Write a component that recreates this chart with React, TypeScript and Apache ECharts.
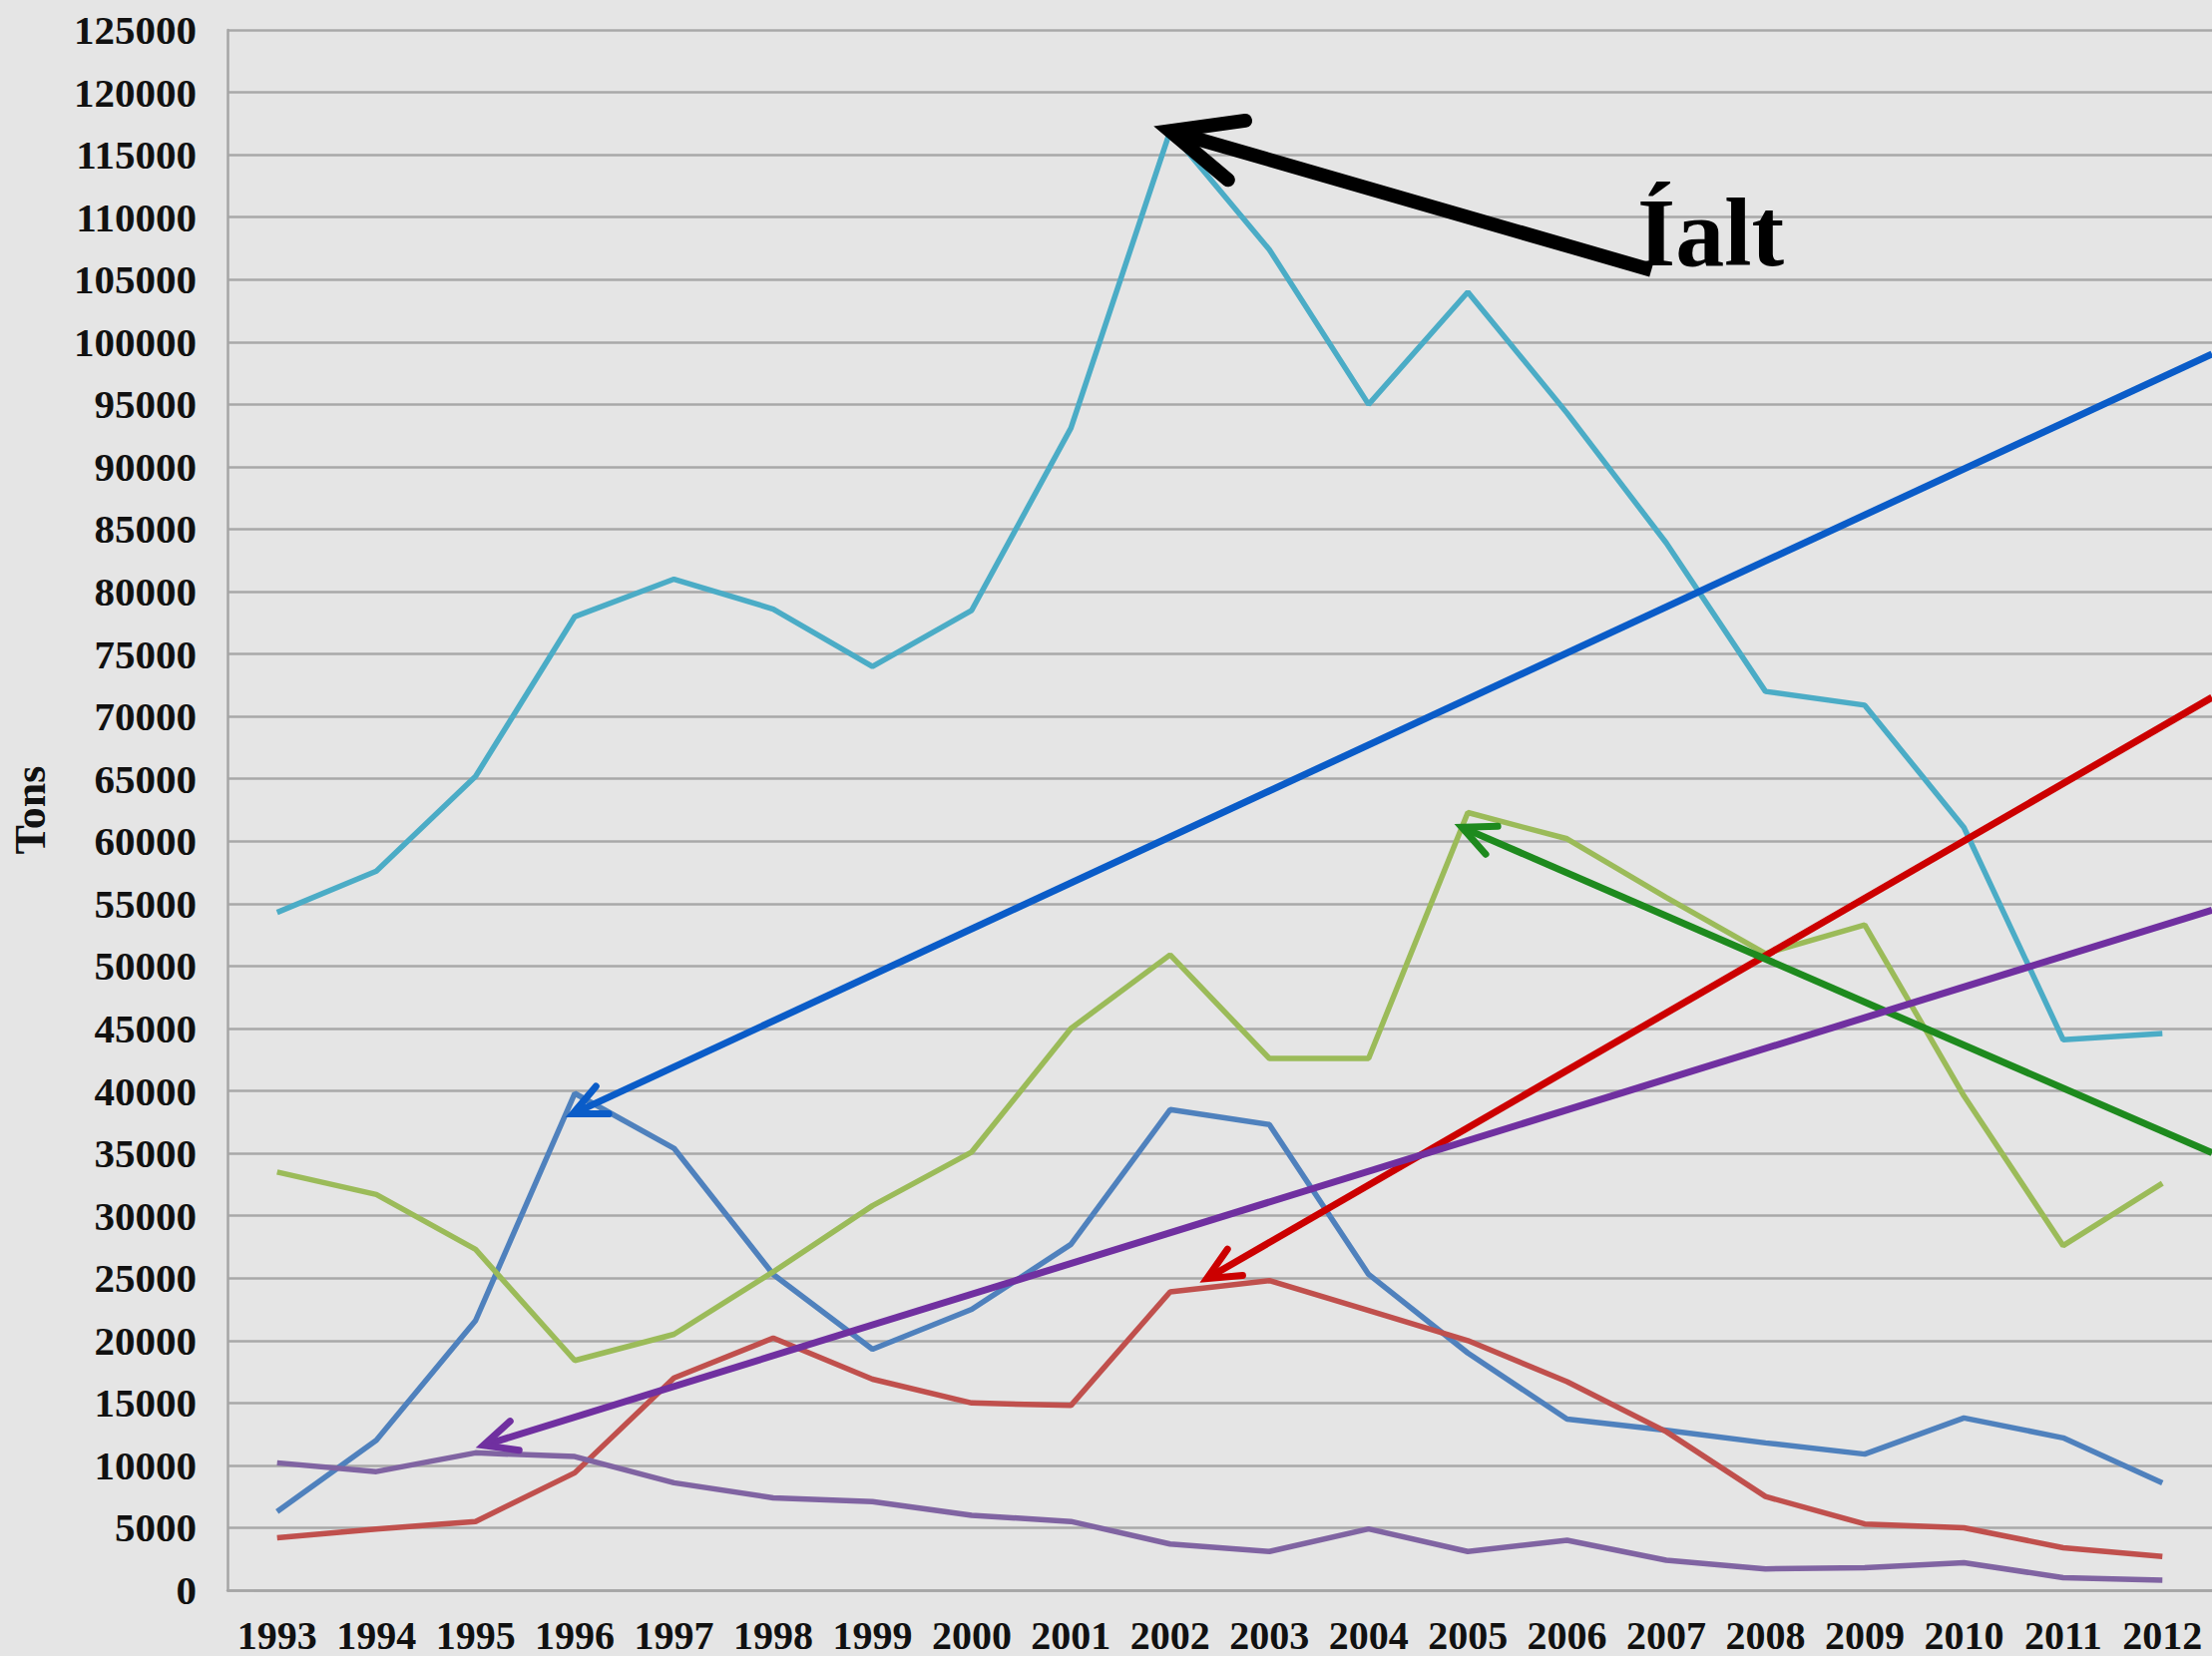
import React, { useEffect, useRef } from "react";
import * as echarts from "echarts";

const years = ["1993", "1994", "1995", "1996", "1997", "1998", "1999", "2000", "2001", "2002", "2003", "2004", "2005", "2006", "2007", "2008", "2009", "2010", "2011", "2012"];

const ialt = [54300, 57600, 65200, 78000, 81000, 78600, 74000, 78500, 93100, 116900, 107400, 95000, 104000, 94300, 83900, 72000, 70900, 61100, 44100, 44600];
const greenVals = [33500, 31700, 27300, 18400, 20500, 25500, 30800, 35100, 45000, 50900, 42600, 42600, 62300, 60200, 55500, 51000, 53300, 39600, 27600, 32600];
const blueVals = [6300, 12000, 21600, 39800, 35400, 25300, 19300, 22500, 27700, 38500, 37300, 25300, 19000, 13700, 12800, 11800, 10900, 13800, 12200, 8600];
const redVals = [4200, 4900, 5500, 9400, 17000, 20200, 16900, 15000, 14800, 23900, 24800, 22400, 20000, 16700, 12700, 7500, 5300, 5000, 3400, 2700];
const purpleVals = [10200, 9500, 11000, 10700, 8600, 7400, 7100, 6000, 5500, 3700, 3100, 4900, 3100, 4000, 2400, 1700, 1800, 2200, 1000, 800];

// Annotation arrows: head/tail positions in data space (category index, value)
const arrowHeadIdx = [9, 2.98, 9.37, 11.94, 2.08];
const arrowHeadVal = [116900, 38160, 24960, 61120, 11600];
const arrowTailIdx = [13.85, 19.5, 19.5, 19.5, 19.5];
const arrowTailVal = [105760, 99040, 71520, 35040, 54480];
const annotationText = "Íalt";

const FONT = "'Liberation Serif', 'Times New Roman', serif";

export default function App() {
  const ref = useRef<HTMLDivElement>(null);
  useEffect(() => {
    if (!ref.current) return;
    const chart = echarts.init(ref.current, undefined, { renderer: "svg" });
    const mk = (name: string, data: number[], color: string) => ({
      name,
      type: "line",
      data,
      symbol: "none",
      lineStyle: { color, width: 5.5 },
      itemStyle: { color },
      z: 2,
    });
    chart.setOption({
      animation: false,
      backgroundColor: "#e5e5e5",
      grid: { left: 223, top: 30, right: 0, bottom: 66, containLabel: false },
      xAxis: {
        type: "category",
        data: years,
        boundaryGap: true,
        axisLine: { show: true, lineStyle: { color: "#a5a5a5", width: 2.5 } },
        axisTick: { show: false },
        axisLabel: { color: "#111", fontSize: 40, fontWeight: "bold", fontFamily: FONT, margin: 25, interval: 0 },
        splitLine: { show: false },
      },
      yAxis: {
        type: "value",
        min: 0,
        max: 125000,
        interval: 5000,
        name: "Tons",
        nameLocation: "middle",
        nameGap: 176,
        nameRotate: 90,
        nameTextStyle: { color: "#111", fontSize: 44, fontWeight: "bold", fontFamily: FONT },
        axisLine: { show: true, lineStyle: { color: "#a5a5a5", width: 2.5 } },
        axisTick: { show: false },
        axisLabel: {
          color: "#111",
          fontSize: 41,
          fontWeight: "bold",
          fontFamily: FONT,
          margin: 31,
          formatter: (v: number) => String(v),
        },
        splitLine: { show: true, lineStyle: { color: "#a8a8a8", width: 2.5 } },
      },
      series: [
        mk("Series 1", blueVals, "#4f81bd"),
        mk("Series 2", redVals, "#c0504d"),
        mk("Series 3", greenVals, "#9bbb59"),
        mk("Series 4", purpleVals, "#8064a2"),
        mk("Íalt", ialt, "#4bacc6"),
      ],
    });

    const px = (idx: number, val: number) => {
      const i0 = Math.max(0, Math.min(years.length - 2, Math.floor(idx)));
      const x0 = chart.convertToPixel({ xAxisIndex: 0 }, i0) as number;
      const x1 = chart.convertToPixel({ xAxisIndex: 0 }, i0 + 1) as number;
      const x = x0 + (idx - i0) * (x1 - x0);
      const y = chart.convertToPixel({ yAxisIndex: 0 }, val) as number;
      return [x, y];
    };

    const styles = [
      { color: "#000000", width: 14, arm: 76, angle: 24 },
      { color: "#0a5cc8", width: 7, arm: 36, angle: 25 },
      { color: "#cc0000", width: 7, arm: 36, angle: 25 },
      { color: "#1e8a1e", width: 7, arm: 36, angle: 25 },
      { color: "#7030a0", width: 7, arm: 36, angle: 25 },
    ];

    const elements: any[] = [];
    arrowHeadIdx.forEach((hi, k) => {
      const tip = px(hi, arrowHeadVal[k]);
      const tail = px(arrowTailIdx[k], arrowTailVal[k]);
      const s = styles[k];
      const dx = tail[0] - tip[0];
      const dy = tail[1] - tip[1];
      const len = Math.hypot(dx, dy);
      const ux = dx / len;
      const uy = dy / len;
      const a = (s.angle * Math.PI) / 180;
      const rot = (ang: number) => [
        tip[0] + s.arm * (ux * Math.cos(ang) - uy * Math.sin(ang)),
        tip[1] + s.arm * (ux * Math.sin(ang) + uy * Math.cos(ang)),
      ];
      const a1 = rot(a);
      const a2 = rot(-a);
      elements.push({
        type: "line",
        z: 100,
        shape: { x1: tip[0] + ux * s.width * 0.4, y1: tip[1] + uy * s.width * 0.4, x2: tail[0], y2: tail[1] },
        style: { stroke: s.color, lineWidth: s.width, lineCap: "butt" },
      });
      elements.push({
        type: "polyline",
        z: 101,
        shape: { points: [a1, tip, a2] },
        style: { stroke: s.color, fill: null, lineWidth: s.width, lineCap: "round", lineJoin: "miter", miterLimit: 10 },
      });
      if (k === 0) {
        elements.push({
          type: "text",
          z: 102,
          x: tail[0] - 14,
          y: tail[1] - 38,
          style: {
            text: annotationText,
            fill: "#000",
            font: `bold 98px ${FONT}`,
            textAlign: "left",
            textVerticalAlign: "middle",
          },
        });
      }
    });
    chart.setOption({ graphic: { elements } });

    return () => chart.dispose();
  }, []);
  return <div ref={ref} style={{ position: "absolute", left: 0, top: 0, width: 2217, height: 1660 }} />;
}
